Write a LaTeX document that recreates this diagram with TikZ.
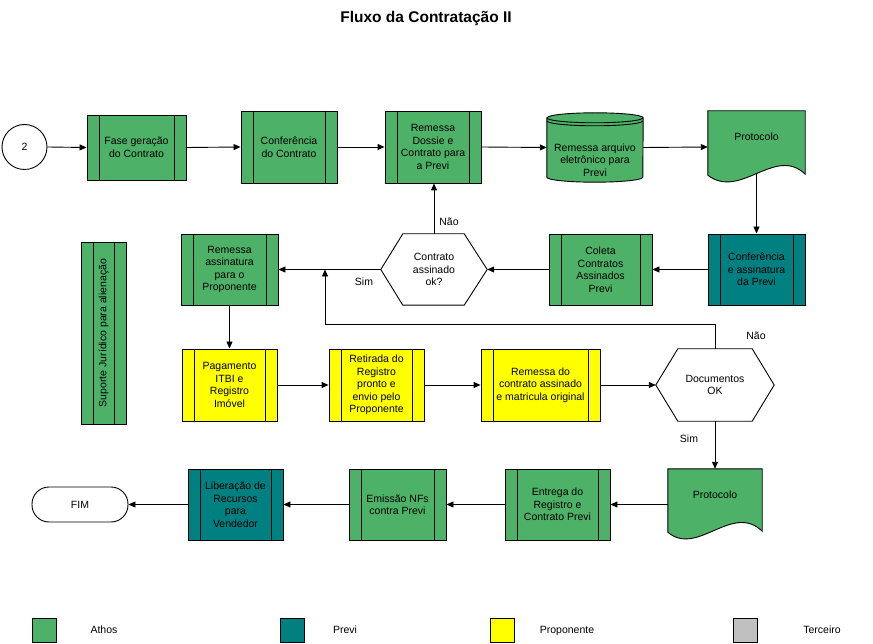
\documentclass[tikz,border=0pt]{standalone}
\usepackage{fontspec}
\setmainfont{Liberation Sans}
\usepackage{graphicx}
\usetikzlibrary{arrows.meta,calc}
\definecolor{athos}{RGB}{77,178,104}
\definecolor{previ}{RGB}{0,128,128}
\definecolor{propo}{RGB}{255,255,0}
\definecolor{terc}{RGB}{192,192,192}
\begin{document}
\begin{tikzpicture}[x=1pt,y=-1pt,
  every node/.style={font=\fontsize{10.5}{12.5}\selectfont, align=center, inner sep=0pt},
  shapeline/.style={line width=0.9pt},
  proc/.style={draw, line width=0.9pt,
    path picture={
      \draw[line width=0.9pt] ([xshift=12pt]path picture bounding box.north west) -- ([xshift=12pt]path picture bounding box.south west);
      \draw[line width=0.9pt] ([xshift=-12pt]path picture bounding box.north east) -- ([xshift=-12pt]path picture bounding box.south east);
    }},
  conn/.style={line width=0.9pt, -{Triangle[length=7pt,width=6pt]}},
  legbox/.style={draw, line width=0.9pt, minimum width=24pt, minimum height=24pt},
  legtext/.style={anchor=base}
]
\useasboundingbox (0,0) rectangle (873,644);

% title
\node[font=\bfseries\fontsize{15.5}{17}\selectfont] (title) at (426,18) {Fluxo da Contratação II};

% row 1
\node[draw, circle, minimum size=45pt, line width=0.9pt] (c2) at (24.5,147) {2};
\node[proc, fill=athos, minimum width=99pt, minimum height=65pt] (b1) at (136.5,147.5) {Fase geração\\do Contrato};
\node[proc, fill=athos, minimum width=96pt, minimum height=72pt] (b2) at (289,147) {Conferência\\do Contrato};
\node[proc, fill=athos, minimum width=96pt, minimum height=72pt] (b3) at (433,147) {Remessa\\Dossie e\\Contrato para\\a Previ};

% cylinder
\node[minimum width=96pt, minimum height=69pt] (cy) at (595,147.5) {};
\draw[shapeline, fill=athos] ($(cy.north west)+(0,5)$) -- ($(cy.south west)+(0,-5)$)
  arc[start angle=180, end angle=360, x radius=48pt, y radius=5pt]
  -- ($(cy.north east)+(0,5)$)
  arc[start angle=0, end angle=180, x radius=48pt, y radius=5pt] -- cycle;
\draw[shapeline] ($(cy.north west)+(0,5)$) arc[start angle=180, end angle=360, x radius=48pt, y radius=5pt];
\draw[shapeline] ($(cy.north west)+(0,8)$) arc[start angle=180, end angle=360, x radius=48pt, y radius=5pt];
\node (cyt) at (595,160) {Remessa arquivo\\eletrônico para\\Previ};

% protocolo 1
\node[minimum width=97pt, minimum height=72pt] (p1) at (756.5,147) {};
\draw[shapeline, fill=athos] (p1.north west) -- (p1.north east) -- ($(p1.south east)+(0,-9)$)
  .. controls ($(p1.south east)+(-30,-38)$) and ($(p1.south east)+(-65,17)$) .. ($(p1.south west)+(0,-8)$) -- cycle;
\node (p1t) at (756.5,137) {Protocolo};

% row 2
\node[proc, fill=previ, minimum width=97pt, minimum height=71pt] (cp) at (756.5,269.5) {Conferência\\e assinatura\\da Previ};
\node[proc, fill=athos, minimum width=103pt, minimum height=71pt] (col) at (600.5,269.5) {Coleta\\Contratos\\Assinados\\Previ};
\node[minimum width=106pt, minimum height=71pt] (h1) at (434,269.5) {Contrato\\assinado\\ok?};
\draw[shapeline] (h1.west) -- ([xshift=22pt]h1.north west) -- ([xshift=-23pt]h1.north east) -- (h1.east)
  -- ([xshift=-23pt]h1.south east) -- ([xshift=22pt]h1.south west) -- cycle;
\node[proc, fill=athos, minimum width=97pt, minimum height=71pt] (ra) at (229.5,269.5) {Remessa\\assinatura\\para o\\Proponente};

% suporte
\node[proc, fill=athos, minimum width=45pt, minimum height=182pt] (sup) at (103.5,333) {\rotatebox{90}{Suporte Jurídico para alienação}};

% row 3
\node[proc, fill=propo, minimum width=95pt, minimum height=72pt] (pag) at (229.5,385) {Pagamento\\ITBI e\\Registro\\Imóvel};
\node[proc, fill=propo, minimum width=95pt, minimum height=72pt] (ret) at (376.5,385) {Retirada do\\Registro\\pronto e\\envio pelo\\Proponente};
\node[proc, fill=propo, minimum width=119pt, minimum height=72pt] (rc) at (540.5,385) {Remessa do\\contrato assinado\\e matricula original};
\node[minimum width=118pt, minimum height=72pt] (h2) at (715,385) {Documentos\\OK};
\draw[shapeline] (h2.west) -- ([xshift=22pt]h2.north west) -- ([xshift=-22pt]h2.north east) -- (h2.east)
  -- ([xshift=-22pt]h2.south east) -- ([xshift=22pt]h2.south west) -- cycle;

% row 4
\node[minimum width=94pt, minimum height=71pt] (p2) at (715,504.5) {};
\draw[shapeline, fill=athos] (p2.north west) -- (p2.north east) -- ($(p2.south east)+(0,-9)$)
  .. controls ($(p2.south east)+(-30,-38)$) and ($(p2.south east)+(-65,17)$) .. ($(p2.south west)+(0,-8)$) -- cycle;
\node (p2t) at (715,495) {Protocolo};
\node[proc, fill=athos, minimum width=105pt, minimum height=71pt] (ent) at (557.5,504.5) {Entrega do\\Registro e\\Contrato Previ};
\node[proc, fill=athos, minimum width=97pt, minimum height=71pt] (emi) at (397.5,504.5) {Emissão NFs\\contra Previ};
\node[proc, fill=previ, minimum width=95pt, minimum height=71pt] (lib) at (235.5,504.5) {Liberação de\\Recursos\\para\\Vendedor};
\node[draw, line width=0.9pt, rounded corners=17pt, minimum width=96pt, minimum height=35pt] (fim) at (80,504.5) {FIM};

% connectors
\draw[conn] (c2.east) -- (b1.west);
\draw[conn] (b1.east) -- (b2.west);
\draw[conn] (b2.east) -- (b3.west);
\draw[conn] (b3.east) -- (cy.west);
\draw[conn] (cy.east) -- (p1.west);
\draw[conn] ($(p1.south)+(0,-9)$) -- (cp.north);
\draw[conn] (cp.west) -- (col.east);
\draw[conn] (col.west) -- (h1.east);
\draw[conn] (h1.north) -- (h1.north |- b3.south);
\draw[conn] (h1.west) -- (ra.east);
\coordinate (j) at (325,269.5);
\draw[conn] (h2.north) -- ++(0,-24) -| (j);
\draw[conn] (ra.south) -- (pag.north);
\draw[conn] (pag.east) -- (ret.west);
\draw[conn] (ret.east) -- (rc.west);
\draw[conn] (rc.east) -- (h2.west);
\draw[conn] (h2.south) -- (p2.north);
\draw[conn] (p2.west) -- (ent.east);
\draw[conn] (ent.west) -- (emi.east);
\draw[conn] (emi.west) -- (lib.east);
\draw[conn] (lib.west) -- (fim.east);

% labels
\node[legtext] (nao1) at (449,226) {Não};
\node[legtext] (sim1) at (364,286) {Sim};
\node[legtext] (nao2) at (756,340) {Não};
\node[legtext] (sim2) at (689,442) {Sim};

% legend
\node[legbox, fill=athos] (lg1) at (44.5,630) {};
\node[legtext] (lt1) at (104,633) {Athos};
\node[legbox, fill=previ] (lg2) at (292.5,630) {};
\node[legtext] (lt2) at (345,633) {Previ};
\node[legbox, fill=propo] (lg3) at (502.5,630) {};
\node[legtext] (lt3) at (567,633) {Proponente};
\node[legbox, fill=terc] (lg4) at (745.5,630) {};
\node[legtext] (lt4) at (822,633) {Terceiro};
\end{tikzpicture}
\end{document}
